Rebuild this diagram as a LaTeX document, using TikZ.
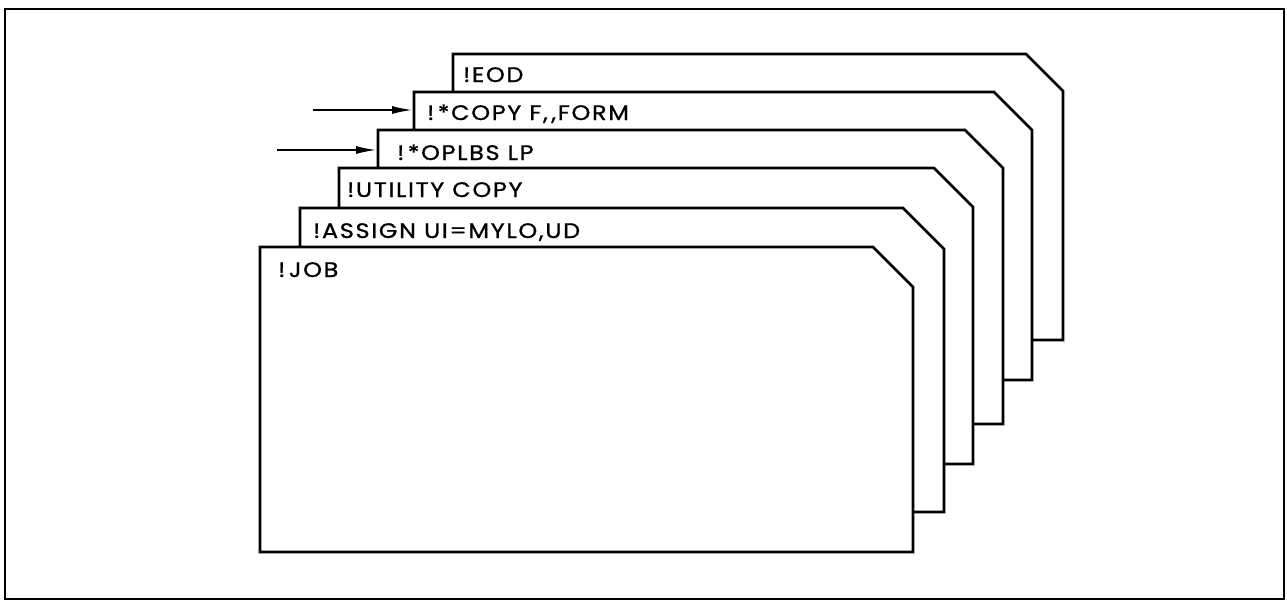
\documentclass[tikz,border=0pt]{standalone}
\usepackage{fontspec}
\setmainfont{Poppins}[LetterSpace=8,FakeStretch=1.14,FakeBold=1]
\usetikzlibrary{arrows.meta}
\begin{document}
\begin{tikzpicture}[x=1pt,y=-1pt,
  card/.style={draw,fill=white,line width=2.6pt,line join=miter},
  lbl/.style={anchor=base west,inner sep=0pt,font=\fontsize{21}{21}\selectfont},
  frame/.style={draw,line width=2.8pt},
  ptr/.style={draw,line width=1.4pt,-{Latex[length=20pt,width=8pt]}}]
\useasboundingbox (0,0) rectangle (1287,603);
\path[frame] (5,9) rectangle (1284,599);
% cards back to front
\path[card] (453,340) -- (453,54) -- (1026,54) -- (1063,91) -- (1063,340) -- cycle;
\node[lbl] (eod) at (463,82) {!EOD};
\path[card] (414,380) -- (414,92) -- (994,92) -- (1032,130) -- (1032,380) -- cycle;
\node[lbl] (copy) at (427,120) {!\,*COPY F{,}\,{,}FORM};
\path[card] (378,424) -- (378,130) -- (965,130) -- (1003,168) -- (1003,424) -- cycle;
\node[lbl] (oplbs) at (397,160) {!\,*OPLBS LP};
\path[card] (339,464) -- (339,168) -- (934,168) -- (973,207) -- (973,464) -- cycle;
\node[lbl] (util) at (347,197) {!UTILITY COPY};
\path[card] (300,512) -- (300,208) -- (903,208) -- (944,249) -- (944,512) -- cycle;
\node[lbl] (assign) at (313,238) {!ASSIGN UI=MYLO,UD};
\path[card] (260,552) -- (260,247) -- (873,247) -- (913,287) -- (913,552) -- cycle;
\node[lbl] (job) at (278,277) {!\,JOB};
% arrows
\coordinate (a1) at (313,110);
\coordinate (copyW) at (412,110);
\coordinate (a2) at (277,150);
\coordinate (oplbsW) at (376,150);
\path[ptr] (a1) -- (copyW);
\path[ptr] (a2) -- (oplbsW);
\end{tikzpicture}
\end{document}
